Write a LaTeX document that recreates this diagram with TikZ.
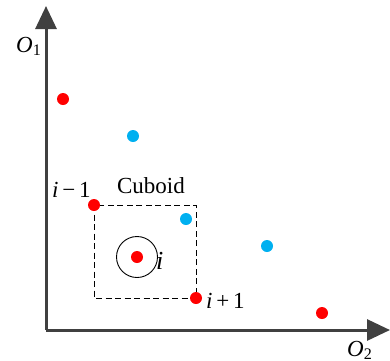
\documentclass[tikz,border=0pt]{standalone}
\usepackage{fontspec}
\setmainfont{Liberation Serif}
\usetikzlibrary{arrows.meta,positioning}
\definecolor{axisgray}{HTML}{404040}
\definecolor{ptred}{HTML}{FF0000}
\definecolor{ptblue}{HTML}{00B0F0}
\tikzset{
  axis/.style={draw=axisgray,line width=3pt,-{Triangle[length=23pt,width=21pt]}},
  redpt/.style={circle,fill=ptred,inner sep=0pt,minimum size=12pt},
  bluept/.style={circle,fill=ptblue,inner sep=0pt,minimum size=12pt},
  cuboid/.style={draw=black,line width=0.9pt,dash pattern=on 6pt off 3.5pt},
  lbl/.style={font=\fontsize{23}{26}\selectfont,inner sep=0pt,anchor=base west}
}
\begin{document}
\begin{tikzpicture}[x=1pt,y=-1pt]
    \useasboundingbox (0,0) rectangle (390,360);
    \coordinate (origin) at (46,330);
    \coordinate (ytip) at (46,6);
    \coordinate (xtip) at (390,330);
    \draw[axis] (origin) -- (ytip);
    \draw[axis] (origin) -- (xtip);
    \node[lbl] (o1) at (16,52) {\textit{O}\textsubscript{1}};
    \node[lbl] (o2) at (347,356) {\textit{O}\textsubscript{2}};

    % cuboid
    \coordinate (boxnw) at (94,205);
    \coordinate (boxse) at (196,298);
    \draw[cuboid] (boxnw) rectangle (boxse);

    \node[redpt] (p1) at (63,99) {};
    \node[bluept] (b1) at (133,136) {};
    \node[redpt] (pim) at (94,205) {};
    \node[bluept] (b2) at (186,219) {};
    \node[bluept] (b3) at (267,246) {};
    \node[redpt] (pi) at (137,257) {};
    \node[redpt] (pip) at (196,298) {};
    \node[redpt] (p5) at (322,313) {};
    \draw[line width=0.9pt] (pi) circle (20.5pt);

    \node[lbl] (lim) at (52,197) {\textit{i}\,−\,1};
    \node[lbl,anchor=base] (lcub) at (151,193) {Cuboid};
    \node[lbl,font=\fontsize{26}{28}\selectfont] (li) at (156,269) {\textit{i}};
    \node[lbl] (lip) at (206,308) {\textit{i}\,+\,1};
\end{tikzpicture}
\end{document}
